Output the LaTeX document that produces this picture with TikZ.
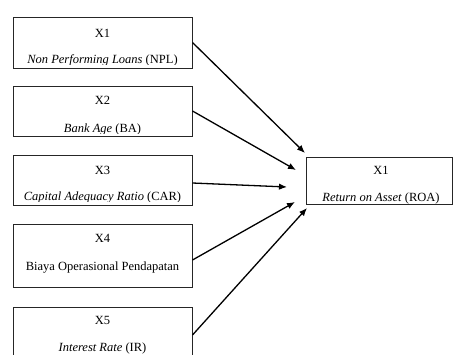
\documentclass[tikz,border=0pt]{standalone}
\usepackage{fontspec}
\setmainfont{Liberation Serif}
\usetikzlibrary{arrows.meta}
\begin{document}
\begin{tikzpicture}[x=1pt,y=-1pt,
  box/.style={draw=black!85,line width=1pt,inner sep=0pt,rectangle},
  lbl/.style={inner sep=0pt,font=\fontsize{12.5}{15}\selectfont},
  arr/.style={line width=1.3pt,-{Latex[length=8pt,width=6.5pt]}}]
\clip (0,0) rectangle (453,354);
\fill[white] (0,0) rectangle (453,354);
% left boxes
\node[box,minimum width=179pt,minimum height=51pt] (b1) at (102.5,42.5) {};
\node[box,minimum width=179pt,minimum height=50pt] (b2) at (102.5,111) {};
\node[box,minimum width=179pt,minimum height=50pt] (b3) at (102.5,180) {};
\node[box,minimum width=179pt,minimum height=63pt] (b4) at (102.5,255.5) {};
\node[box,minimum width=179pt,minimum height=56pt] (b5) at (102.5,335) {};
% right box
\node[box,minimum width=146pt,minimum height=47pt] (r) at (379,180.5) {};
% labels
\node[lbl] (t1) at (102.5,33) {X1};
\begin{scope}\clip (14,18) rectangle (191,64.2);
\node[lbl,anchor=base] (s1) at (102.5,63.5) {\textit{Non Performing Loans} (NPL)};
\end{scope}
\node[lbl] (t2) at (102.5,100) {X2};
\begin{scope}\clip (14,87) rectangle (191,133);
\node[lbl,anchor=base] (s2) at (102.5,132.5) {\textit{Bank Age} (BA)};
\end{scope}
\node[lbl] (t3) at (102.5,170) {X3};
\begin{scope}\clip (14,156) rectangle (191,201.2);
\node[lbl,anchor=base] (s3) at (102.5,200.5) {\textit{Capital Adequacy Ratio} (CAR)};
\end{scope}
\node[lbl] (t4) at (102.5,238) {X4};
\node[lbl,anchor=base] (s4) at (102.5,270) {Biaya Operasional Pendapatan};
\node[lbl] (t5) at (102.5,320) {X5};
\node[lbl,anchor=base] (s5) at (102.5,351) {\textit{Interest Rate} (IR)};
\node[lbl] (tr) at (381,170) {X1};
\node[lbl,anchor=base] (sr) at (381,201) {\textit{Return on Asset} (ROA)};
% arrow targets
\coordinate (e1) at (305,153);
\coordinate (e2) at (296,170);
\coordinate (e3) at (287,187);
\coordinate (e4) at (295,202);
\coordinate (e5) at (307,208);
\draw[arr] (b1.east) -- (e1);
\draw[arr] (b2.east) -- (e2);
\draw[arr] ([yshift=-3pt]b3.east) -- (e3);
\draw[arr] ([yshift=-4.5pt]b4.east) -- (e4);
\draw[arr] (b5.east) -- (e5);
\end{tikzpicture}
\end{document}
